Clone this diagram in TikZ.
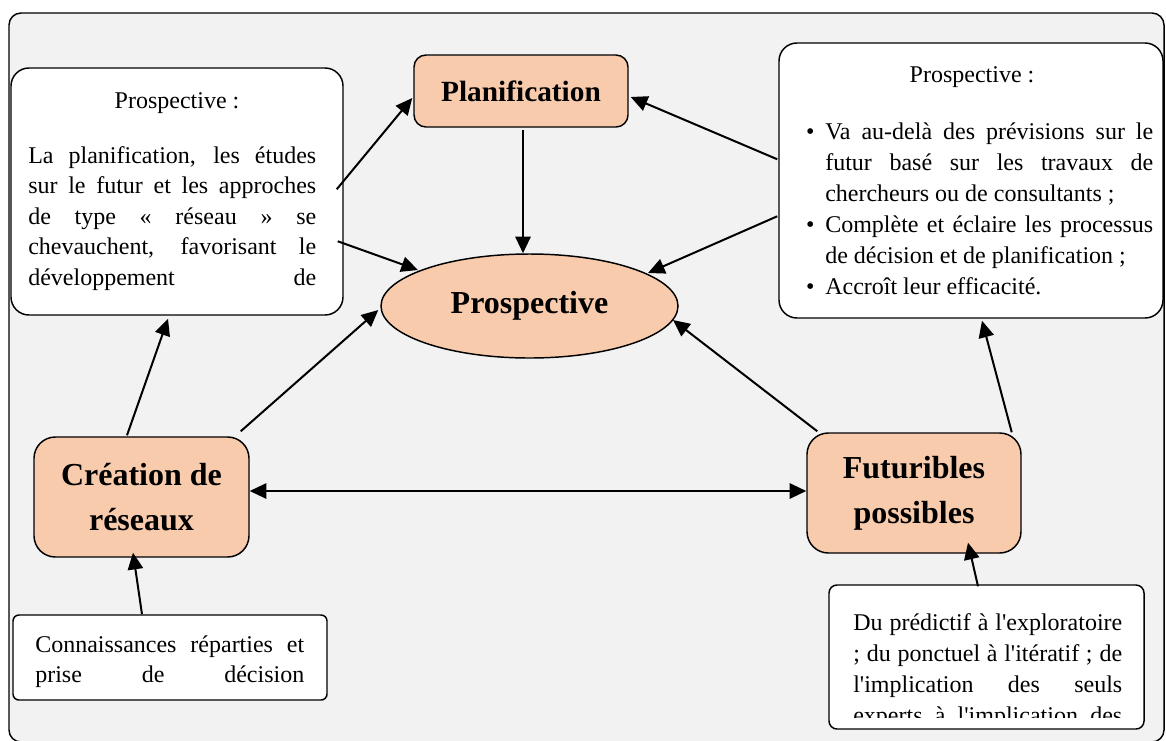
\documentclass[tikz,border=0pt]{standalone}
\usepackage{fontspec}
\setmainfont{Liberation Serif}
\usetikzlibrary{arrows.meta,calc,shapes.geometric}
\definecolor{peach}{HTML}{F8CBAD}
\definecolor{canvas}{HTML}{F2F2F2}
% justified line, plain line, and their bulleted forms
\newcommand\jl[1]{\noindent\makebox[\linewidth][s]{#1}\par}
\newcommand\lline[1]{\noindent#1\par}
\newcommand\bjl[1]{\noindent\llap{\textbullet\hspace{8pt}}\makebox[\linewidth][s]{#1}\par}
\newcommand\bll[1]{\noindent\llap{\textbullet\hspace{8pt}}#1\par}
\newcommand\bodyfont[1]{\fontsize{18pt}{#1}\selectfont}
\newcommand\apos{\textquotesingle}
\begin{document}
\begin{tikzpicture}[x=0.75pt,y=-0.75pt,
  frame/.style={draw=black,fill=canvas,line width=1.1pt,rounded corners=9pt},
  textbox/.style={draw=black,fill=white,line width=1.1pt,inner sep=0pt,rectangle},
  keybox/.style={draw=black,fill=peach,line width=1.1pt,inner sep=0pt,rectangle},
  plain/.style={inner sep=0pt,font=\bodyfont{22pt}},
  arr/.style={line width=1.5pt,-{Triangle[length=12.5pt,width=11.5pt]}},
  dbl/.style={line width=1.5pt,{Triangle[length=12.5pt,width=11.5pt]}-{Triangle[length=12.5pt,width=11.5pt]}}]
\useasboundingbox (0,0) rectangle (1166,740);
\fill[white] (0,0) rectangle (1166,740);
\draw[frame] (9,13) rectangle (1164,742);

% text boxes
\node[textbox,rounded corners=13.5pt,minimum width=249pt,minimum height=185.25pt] (tl) at (177,191.5) {};
\node[textbox,rounded corners=13.5pt,minimum width=288pt,minimum height=206.25pt] (tr) at (971,180.5) {};
\node[textbox,rounded corners=4.5pt,minimum width=235.5pt,minimum height=63.75pt] (bl) at (170,657.5) {};
\node[textbox,rounded corners=6pt,minimum width=236.25pt,minimum height=108pt] (br) at (986.5,657) {};

% key concepts
\node[keybox,rounded corners=9pt,minimum width=160.5pt,minimum height=54pt,
  font=\bfseries\fontsize{22pt}{26pt}\selectfont] (plan) at (521,91) {Planification};
\node[ellipse,draw=black,fill=peach,line width=1.1pt,inner sep=0pt,
  minimum width=222.75pt,minimum height=78pt,
  font=\bfseries\fontsize{24pt}{28pt}\selectfont] (pros) at (529.5,306) {Prospective};
\node[keybox,rounded corners=16pt,minimum width=161.25pt,minimum height=90pt,align=center,
  font=\bfseries\fontsize{24pt}{33.75pt}\selectfont] (cre) at (141.5,497) {Création de\\réseaux};
\node[keybox,rounded corners=16pt,minimum width=160.5pt,minimum height=90pt,align=center,
  font=\bfseries\fontsize{24pt}{33.75pt}\selectfont] (fut) at (914,493) {Futuribles\\possibles};

% texts of the boxes
\node[plain,anchor=base] (tltitle) at (177,108) {Prospective :};
\node[plain,anchor=base west] (tlbody) at (28,163) {\parbox[t]{216pt}{\bodyfont{22.9pt}%
  \jl{La planification, les études}
  \jl{sur le futur et les approches}
  \jl{de type « réseau » se}
  \jl{chevauchent, favorisant le}
  \jl{développement de}}};

\node[plain,anchor=base] (trtitle) at (972,82) {Prospective :};
\node[plain,anchor=base west] (trbody) at (825,139) {\parbox[t]{246pt}{\bodyfont{23.25pt}%
  \bjl{Va au-delà des prévisions sur le}
  \jl{futur basé sur les travaux de}
  \lline{chercheurs ou de consultants ;}
  \bjl{Complète et éclaire les processus}
  \lline{de décision et de planification ;}
  \bll{Accroît leur efficacité.}}};

\node[plain,anchor=base west] (blbody) at (35,652) {\parbox[t]{201.75pt}{\bodyfont{22.5pt}%
  \jl{Connaissances réparties et}
  \jl{prise de décision}}};

\begin{scope}
  \clip (831,587) rectangle (1142,717);
  \node[plain,anchor=base west] (brbody) at (853,630) {\parbox[t]{201.75pt}{\bodyfont{23.25pt}%
    \jl{Du prédictif à l\apos exploratoire}
    \jl{; du ponctuel à l\apos itératif ; de}
    \jl{l\apos implication des seuls}
    \jl{experts à l\apos implication des}}};
\end{scope}

% connectors
\draw[arr] ($(tl.north east)+(-7,122)$) -- ($(plan.west)+(-1,7)$);
\draw[arr] ($(tl.north east)+(-6,174)$) -- ($(pros.center)+(-111.5,-36)$);
\draw[arr] ($(plan.south)+(2,2)$) -- ($(pros.north)+(-6.5,0)$);
\draw[arr] ($(tr.north west)+(-1,117)$) -- ($(plan.east)+(2,6)$);
\draw[arr] ($(tr.north west)+(-1,174)$) -- ($(pros.center)+(118.5,-33)$);
\draw[arr] ($(cre.north east)+(-9,-5)$) -- ($(pros.west)+(-2,4)$);
\draw[arr] ($(cre.north)+(-14.5,-1)$) -- ($(tl.south)+(-9,3)$);
\draw[arr] ($(bl.north)+(-28,0)$) -- ($(cre.south)+(-8.5,-5)$);
\draw[dbl] ($(cre.east)+(0,-6)$) -- ($(fut.west)+(0,-2)$);
\draw[arr] ($(fut.north west)+(11,-1)$) -- ($(pros.center)+(143.5,14)$);
\draw[arr] ($(fut.north east)+(-10,0)$) -- ($(tr.south)+(11,2)$);
\draw[arr] ($(br.north)+(-8.5,2)$) -- ($(fut.south)+(54,-11)$);
\end{tikzpicture}
\end{document}
